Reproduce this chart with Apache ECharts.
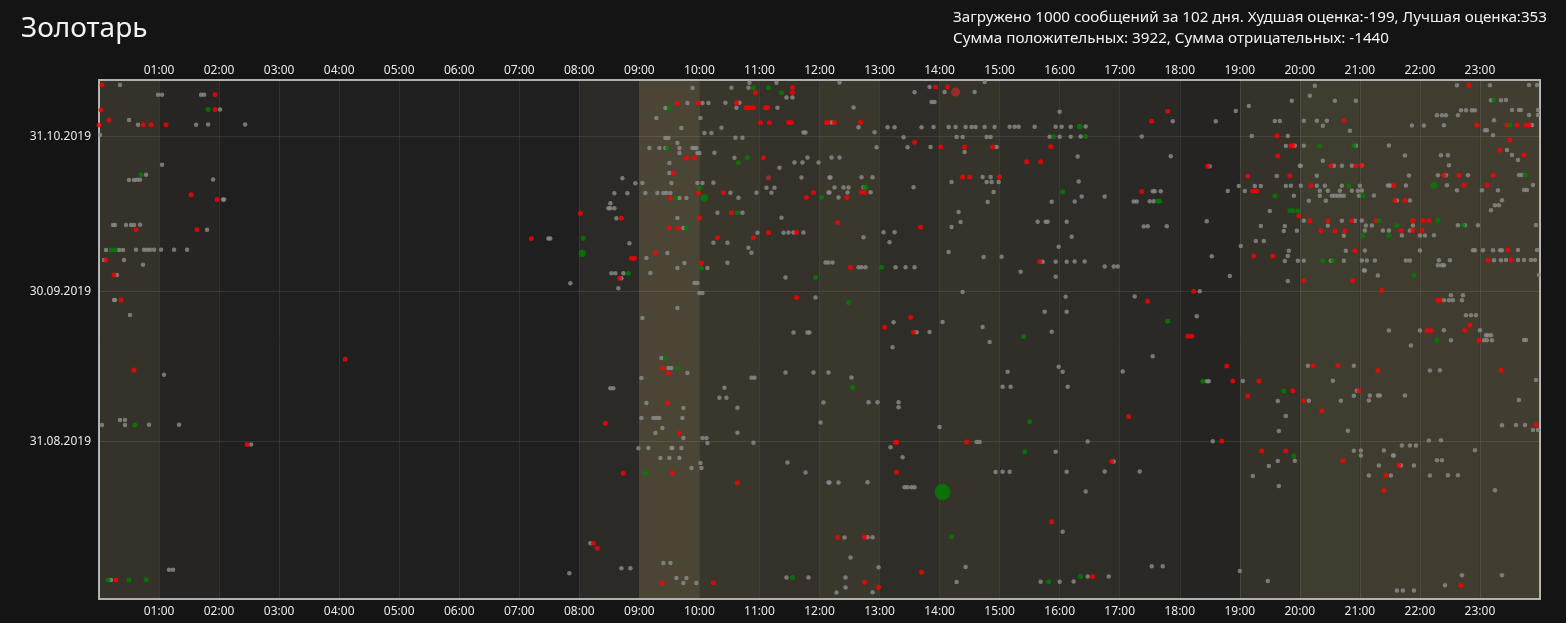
<!DOCTYPE html>
<html>
<head>
<meta charset="utf-8">
<title>Золотарь</title>
<script src="https://cdn.jsdelivr.net/npm/echarts@6/dist/echarts.min.js"></script>
<style>
    html, body { margin: 0; padding: 0; background: #141414; }
    #chart { width: 1566px; height: 623px; }
</style>
</head>
<body>
<div id="chart"></div>
<script>
(function (echarts) {

    var YEAR = 2019;
    var FONT = '"Segoe UI", "Noto Sans", "Open Sans", sans-serif';

    var titleText = 'Золотарь';
    var statsLines = [
        'Загружено 1000 сообщений за 102 дня. Худшая оценка:-199, Лучшая оценка:353',
        'Сумма положительных: 3922, Сумма отрицательных: -1440'
    ];

    // подписи дат по оси Y (полночь по часовому поясу сервера, сдвиг 8 ч)
    var dateTicks = ['08-31', '09-30', '10-31'];
    var TICK_SHIFT_HOURS = -8;
    var dateRange = ['07-30', '11-11'];

    // активность по часам (0..1) - подсветка колонок
    var hourActivity = [0.50, 0.16, 0, 0, 0, 0, 0, 0, 0.30, 1.0, 0.60, 0.47,
        0.62, 0.37, 0.52, 0.40, 0.37, 0.26, 0.13, 0.50, 0.75, 0.76, 0.76, 0.80];

    // нейтральные сообщения (оценка 0): [дата, [время...]]
    var neutral = [
        ['11-10', ['00:21', '10:50', '11:17', '12:20', '14:45']],
        ['11-09', ['09:53', '10:32', '10:49', '13:50', '20:15', '22:37', '23:10', '23:49', '23:57']],
        ['11-08', ['00:59', '01:03', '01:42', '01:45', '13:35', '14:05', '14:35']],
        ['11-07', ['11:27', '11:33', '20:10']],
        ['11-06', ['09:48', '10:03', '10:09', '10:26', '10:40', '13:52', '13:55', '19:52', '20:35', '20:56', '23:11', '23:21', '23:26']],
        ['11-05', ['02:01', '09:26', '10:37', '11:18', '12:34', '19:09']],
        ['11-04', ['16:00', '18:56', '22:41', '22:46', '22:52', '22:55', '23:32', '23:39', '23:41', '23:58']],
        ['11-03', ['00:30', '09:17', '10:01', '22:17', '22:22', '22:26', '22:38', '23:49', '23:58']],
        ['11-02', ['00:39', '01:37', '01:49', '02:26', '12:12', '17:53', '18:36', '19:35', '19:40', '20:04', '20:17', '20:27', '23:14']],
        ['11-01', ['09:42', '10:22', '12:39', '13:08', '13:15', '13:42', '13:54', '14:09', '14:16', '14:26', '14:32', '14:36', '14:45',
            '14:55', '15:10', '15:15', '15:19', '15:35', '15:56', '16:02', '16:11', '16:26', '20:23', '21:52', '22:04', '22:24', '23:52']],
        ['10-31', ['00:01', '10:05', '10:12', '11:44', '11:46', '12:55', '20:50', '23:05', '23:07']],
        ['10-30', ['09:26', '09:29', '10:36', '10:43', '13:24', '14:17', '14:23', '14:47', '14:51', '15:50', '16:00', '16:11', '16:21',
            '17:22', '19:12', '19:48', '23:13']],
        ['10-29', ['09:38']],
        ['10-28', ['09:10', '09:20', '09:26', '09:40', '09:53', '09:55', '09:57', '12:57', '13:28', '13:51', '14:57', '19:46', '19:55',
            '20:04', '20:56', '21:29']],
        ['10-27', ['09:40', '09:58', '10:00', '10:15', '14:25', '23:27']],
        ['10-26', ['10:35', '11:48', '12:12', '12:20', '16:18', '17:51', '21:45', '22:21', '22:28', '23:32']],
        ['10-25', ['01:03', '09:30', '11:35', '11:43', '11:59', '20:23', '23:38']],
        ['10-24', ['11:20', '18:30', '20:00', '20:01', '20:34', '20:42', '20:52', '21:02', '22:29']],
        ['10-23', ['00:47', '09:30']],
        ['10-22', ['00:30', '00:35', '00:38', '00:41', '01:54', '08:43', '11:42', '12:10', '12:11', '12:42', '12:53', '14:43', '14:51',
            '19:37', '20:17', '21:49', '22:18', '22:26', '22:48', '23:39', '23:42']],
        ['10-21', ['08:56', '09:03', '09:32', '09:58', '10:03', '10:14', '14:12', '14:47', '14:52', '14:59', '16:19']],
        ['10-20', ['11:07', '11:15', '12:15', '12:24', '12:29', '12:44', '13:34', '18:59', '19:15', '19:21', '19:46', '19:51', '20:01',
            '20:17', '20:25', '20:42', '21:00', '21:28', '21:30', '21:46', '22:27', '23:53']],
        ['10-19', ['08:35', '08:48', '09:06', '09:18', '09:24', '09:27', '09:31', '10:31', '10:57', '11:12', '12:09', '12:10', '12:28',
            '12:51', '14:54', '17:33', '17:35', '17:41', '18:48', '19:05', '20:20', '20:28', '20:40', '20:52', '20:58', '21:02',
            '22:37', '23:02', '23:18', '23:44', '23:47']],
        ['10-18', ['02:04', '02:05', '09:40', '09:47', '10:39', '12:19', '16:22', '16:45', '19:54', '20:20', '20:32', '20:35', '20:38',
            '20:41', '20:44', '20:59', '21:14']],
        ['10-17', ['08:31', '14:48', '15:52', '16:15', '17:14', '17:17', '17:30', '17:34', '20:09', '20:26', '21:37', '21:50', '23:22']],
        ['10-16', ['08:29', '08:31', '08:35', '23:15', '23:19']],
        ['10-15', ['10:18', '10:43', '14:19', '19:30', '23:11']],
        ['10-14', ['08:37', '09:38', '11:22']],
        ['10-13', ['00:14', '00:16', '00:27', '00:32', '00:35', '00:41', '14:21', '15:38', '15:46', '15:48', '16:07', '18:27', '20:04',
            '20:42', '20:55', '21:02']],
        ['10-12', ['01:48', '09:44', '14:12', '17:24', '17:28', '17:47', '19:21', '19:45', '20:28', '21:06', '21:12', '21:53', '22:38',
            '22:45', '22:58', '23:56']],
        ['10-11', ['10:58', '11:24', '11:29', '11:34', '11:44', '13:04', '13:15', '19:44', '19:57', '21:05', '21:23', '21:29', '21:50']],
        ['10-10', ['07:29', '07:31', '12:44', '16:12', '20:44', '21:42', '22:00', '22:05', '22:14']],
        ['10-09', ['08:50', '10:14', '10:28', '13:10', '19:16', '19:24']],
        ['10-08', ['00:07', '00:20', '00:24', '00:37', '00:45', '00:48', '00:51', '00:55', '01:02', '01:15', '01:28', '10:49', '15:59', '19:01']],
        ['10-07', ['09:28', '10:52', '14:09', '19:49', '20:46', '21:05', '22:00', '22:53', '22:55', '23:03', '23:13', '23:20', '23:22',
            '23:38', '23:57']],
        ['10-06', ['00:05', '00:25', '09:07', '14:44', '15:02', '18:32', '19:48']],
        ['10-05', ['00:44', '09:45', '10:28', '12:06', '12:09', '12:13', '15:43', '15:56', '16:07', '16:15', '16:25', '19:45', '19:58',
            '20:04', '20:31', '20:44', '21:02', '21:07', '21:15', '21:46', '21:50', '22:19', '22:30', '23:14', '23:21', '23:26',
            '23:38', '23:44', '23:51', '23:55']],
        ['10-04', ['09:38', '10:08', '12:39', '12:42', '12:46', '13:16', '13:26', '13:35', '16:45', '16:54', '16:58', '22:18', '22:22', '22:24']],
        ['10-03', ['00:18', '08:32', '08:36', '08:44', '09:11', '15:21', '21:04', '21:05']],
        ['10-02', ['08:42', '11:26', '15:56', '18:50', '21:18', '23:59']],
        ['10-01', ['07:51', '09:55', '09:58', '19:48']],
        ['09-30', ['08:39']],
        ['09-29', ['10:00', '10:03', '14:23', '18:20']],
        ['09-28', ['00:15', '00:16', '11:56', '16:06', '17:15', '22:31', '22:43']],
        ['09-27', ['22:24', '22:29', '22:33', '22:42']],
        ['09-26', ['09:38']],
        ['09-25', ['00:31', '15:45', '16:07']],
        ['09-24', ['09:03', '18:17', '22:46', '22:51', '22:56']],
        ['09-23', ['13:14', '14:03']],
        ['09-22', ['14:43']],
        ['09-21', ['11:34', '11:48', '11:50', '13:37', '13:50', '15:52', '21:29', '22:00', '22:24', '23:00']],
        ['09-20', ['23:06', '23:08', '23:11']],
        ['09-19', ['14:50', '22:31', '23:04', '23:07', '23:12', '23:44', '23:46']],
        ['09-18', ['13:13', '21:51']],
        ['09-16', ['09:22', '17:33']],
        ['09-14', ['09:29', '09:32', '15:59', '20:08', '20:54']],
        ['09-13', ['01:05', '09:48', '11:26', '11:54', '12:09', '15:08', '16:03', '17:03', '22:10', '22:20']],
        ['09-12', ['09:02', '10:52', '10:55', '12:32']],
        ['09-11', ['18:27', '18:29', '19:03', '20:33', '23:56']],
        ['09-10', ['08:31', '08:34', '10:25', '15:03', '15:11', '16:08']],
        ['09-09', ['20:57']],
        ['09-08', ['10:20', '10:27', '20:54', '21:10', '21:18', '21:20', '21:45']],
        ['09-07', ['09:07', '12:04', '12:49', '12:58', '13:19', '19:38', '20:09', '20:41', '21:09', '23:39']],
        ['09-06', ['09:44', '10:38', '13:19']],
        ['09-04', ['00:21', '00:26', '09:02', '09:14', '09:17', '09:20', '09:43', '19:46']],
        ['09-03', ['00:03', '00:26', '00:50', '01:20', '12:01']],
        ['09-02', ['09:23', '14:00', '23:22', '23:36', '23:45']],
        ['09-01', ['09:16', '10:38', '19:39', '20:48', '23:53', '23:58']],
        ['08-31', ['09:44', '10:03', '10:07']],
        ['08-30', ['02:32', '10:08', '10:54', '14:37', '14:40', '16:28', '18:33', '22:09', '22:21']],
        ['08-29', ['08:59', '09:09', '09:32', '09:33', '09:42', '13:11', '21:42', '21:50', '21:56']],
        ['08-28', ['15:56', '20:54', '21:01', '21:24', '22:55']],
        ['08-27', ['09:21', '09:30', '09:40', '13:23', '21:01', '21:33', '21:34']],
        ['08-26', ['10:01', '11:28', '16:54', '19:38', '19:55', '22:17', '22:22']],
        ['08-25', ['09:52', '10:02', '19:29', '21:19', '21:41', '21:54']],
        ['08-24', ['11:46', '14:56', '15:03', '15:10', '16:07', '16:45', '17:20']],
        ['08-23', ['19:13', '21:09', '21:31', '22:10', '22:28', '22:38']],
        ['08-22', ['12:09', '12:10', '12:19', '12:48']],
        ['08-21', ['13:25', '13:28', '13:32', '13:35', '19:39']],
        ['08-20', ['16:26', '23:15']],
        ['08-12', ['16:03']],
        ['08-11', ['12:25', '12:48', '12:53']],
        ['08-10', ['08:11']],
        ['08-07', ['12:31']],
        ['08-06', ['09:24', '09:31']],
        ['08-05', ['01:10', '01:14', '08:42', '08:51', '12:59', '14:26', '17:32', '17:43']],
        ['08-04', ['07:50', '19:00']],
        ['08-03', ['00:12', '09:37', '09:47', '11:27', '11:49', '12:26', '16:28', '16:49', '22:42', '23:22']],
        ['08-02', ['09:44', '09:57', '14:17', '15:41', '16:00', '16:14', '19:28']],
        ['08-01', ['12:26', '22:25']],
        ['07-31', ['12:17', '12:53', '21:37', '21:43', '21:54']]
    ];

    // отрицательные оценки (мелкие, около -12): [дата, [время...]]
    var SMALL_NEG = -12;
    var negative = [
        ['11-10', ['00:03']],
        ['11-09', ['11:33', '13:56', '14:08', '22:49']],
        ['11-08', ['01:56', '10:56', '11:33']],
        ['11-06', ['09:38', '09:59', '10:37']],
        ['11-05', ['00:02', '01:56', '10:47', '10:50', '10:54', '11:06', '11:08']],
        ['11-04', ['17:48']],
        ['11-03', ['00:10']],
        ['11-02', ['00:00', '00:44', '00:52', '01:07', '11:01', '11:10', '11:29', '11:32', '12:07', '12:08', '12:15', '12:41', '17:32', '20:44']],
        ['11-01', ['22:57', '23:27', '23:37', '23:46', '23:49']],
        ['10-30', ['19:37']],
        ['10-29', ['13:35', '23:30']],
        ['10-28', ['14:01', '14:25', '14:53', '15:51', '19:51', '19:53']],
        ['10-27', ['23:20']],
        ['10-26', ['09:47', '09:55', '11:04', '19:38', '23:44']],
        ['10-25', ['15:27', '15:41']],
        ['10-24', ['18:28', '20:31', '20:56', '21:02']],
        ['10-23', ['09:34']],
        ['10-22', ['14:23', '14:30', '15:00', '19:08', '19:50', '22:24', '22:39', '23:13']],
        ['10-20', ['20:11', '21:34', '22:44', '23:07']],
        ['10-19', ['01:32', '09:59', '10:24', '11:54', '12:42', '12:45', '17:22', '19:13', '19:17']],
        ['10-18', ['01:58', '09:31', '11:47', '12:27']],
        ['10-17', ['21:35', '21:45']],
        ['10-15', ['08:01', '10:32']],
        ['10-14', ['08:42', '10:00', '19:59']],
        ['10-13', ['12:18', '20:10', '20:28', '20:52', '21:16', '21:53', '22:03', '22:09']],
        ['10-12', ['00:37', '01:38', '09:30', '09:39', '13:41']],
        ['10-11', ['11:09', '11:37', '20:21', '20:35', '20:45', '21:41', '21:53', '22:02']],
        ['10-10', ['07:12', '10:18', '10:54']],
        ['10-07', ['09:16', '20:55', '23:28']],
        ['10-06', ['00:07', '08:52', '08:55', '19:14', '19:33']],
        ['10-05', ['10:02', '15:40', '23:08', '23:31']],
        ['10-04', ['12:31']],
        ['10-03', ['00:15']],
        ['10-02', ['08:40']],
        ['10-01', ['20:04', '20:53']],
        ['09-29', ['18:14', '21:22']],
        ['09-28', ['00:22', '11:37']],
        ['09-27', ['17:28', '22:18', '22:20']],
        ['09-24', ['13:31']],
        ['09-22', ['13:05', '22:50']],
        ['09-21', ['13:34', '22:07', '22:11', '22:45']],
        ['09-20', ['18:08', '18:12']],
        ['09-19', ['22:59']],
        ['09-16', ['04:06']],
        ['09-14', ['00:35', '09:23', '18:47', '20:13', '20:38']],
        ['09-13', ['09:29', '21:18', '23:21']],
        ['09-11', ['18:53', '19:19']],
        ['09-09', ['19:53', '20:59']],
        ['09-08', ['19:08']],
        ['09-07', ['09:28', '20:04']],
        ['09-05', ['20:22']],
        ['09-04', ['17:09']],
        ['09-03', ['08:26']],
        ['09-02', ['23:56']],
        ['09-01', ['09:40']],
        ['08-30', ['02:28', '13:16', '13:17', '14:27', '18:42']],
        ['08-28', ['19:22', '19:46']],
        ['08-26', ['16:52', '20:43']],
        ['08-25', ['21:39']],
        ['08-24', ['08:44', '09:33', '13:17']],
        ['08-23', ['21:26']],
        ['08-22', ['10:38']],
        ['08-20', ['21:24']],
        ['08-14', ['15:52']],
        ['08-11', ['12:18', '12:45']],
        ['08-10', ['08:14']],
        ['08-09', ['08:18']],
        ['08-04', ['13:42']],
        ['08-03', ['00:17', '16:33']],
        ['08-02', ['09:23', '10:14', '12:45']],
        ['08-01', ['12:59', '22:41']]
    ];

    // положительные оценки (мелкие, около +40): [дата, [время...]]
    var SMALL_POS = 40;
    var positive = [
        ['11-09', ['10:54', '11:09']],
        ['11-08', ['11:22']],
        ['11-06', ['23:14']],
        ['11-05', ['01:49', '09:30']],
        ['11-01', ['23:30']],
        ['10-30', ['15:54', '16:26']],
        ['10-28', ['09:28', '20:20', '20:54']],
        ['10-26', ['10:48']],
        ['10-25', ['10:39']],
        ['10-23', ['00:42']],
        ['10-22', ['23:45']],
        ['10-20', ['10:00', '20:49']],
        ['10-19', ['16:03']],
        ['10-18', ['09:36', '12:02', '19:35', '21:03']],
        ['10-17', ['17:38', '17:40']],
        ['10-15', ['10:38', '19:50', '19:53', '19:58']],
        ['10-13', ['21:19', '22:18']],
        ['10-12', ['09:47', '21:37', '22:43']],
        ['10-10', ['08:04', '21:03', '21:29']],
        ['10-08', ['00:12', '00:16']],
        ['10-05', ['20:23', '20:33']],
        ['10-04', ['10:02', '13:02']],
        ['10-03', ['08:49']],
        ['10-02', ['11:56', '21:54']],
        ['09-27', ['12:29']],
        ['09-23', ['17:48']],
        ['09-20', ['15:24']],
        ['09-19', ['22:17']],
        ['09-16', ['09:26']],
        ['09-14', ['09:38']],
        ['09-11', ['18:23']],
        ['09-10', ['12:33']],
        ['09-09', ['19:44']],
        ['09-03', ['00:36', '15:30']],
        ['08-28', ['15:25']],
        ['08-27', ['19:54']],
        ['08-24', ['09:06']],
        ['08-11', ['14:12']],
        ['08-03', ['00:09', '00:30', '00:47', '11:33', '16:21']],
        ['08-02', ['15:49']]
    ];

    // крупные оценки: [дата, время, оценка]
    var strong = [
        ['08-20', '14:03', 353],
        ['10-18', '10:05', 160],
        ['10-07', '08:03', 160],
        ['10-20', '22:14', 150],
        ['11-01', '16:20', 130],
        ['10-20', '12:46', 130],
        ['11-08', '14:16', -199],
        ['10-22', '11:09', -110]
    ];

    var MAX_SCORE = 353;

    function dayNum(md) {
        var p = md.split('-');
        return Date.UTC(YEAR, +p[0] - 1, +p[1]) / 864e5;
    }

    function toPoint(md, hm, score) {
        var t = hm.split(':');
        var mins = (+t[0]) * 60 + (+t[1]);
        return [mins / 60, dayNum(md) + mins / 1440, score];
    }

    function expand(rows, score) {
        var out = [];
        rows.forEach(function (row) {
            row[1].forEach(function (hm) {
                out.push(toPoint(row[0], hm, score));
            });
        });
        return out;
    }

    var grayData = expand(neutral, 0);
    var redData = expand(negative, SMALL_NEG);
    var greenData = expand(positive, SMALL_POS);
    strong.forEach(function (s) {
        (s[2] < 0 ? redData : greenData).push(toPoint(s[0], s[1], s[2]));
    });

    function markSize(v) {
        return Math.max(5, 16 * Math.abs(v[2]) / MAX_SCORE);
    }

    function shade(level) {
        var lo = [31, 31, 31], hi = [74, 69, 53];
        var c = lo.map(function (l, i) { return Math.round(l + (hi[i] - l) * level); });
        return 'rgb(' + c.join(',') + ')';
    }

    var columns = hourActivity.map(function (a, h) {
        return [{ xAxis: h, itemStyle: { color: shade(a) } }, { xAxis: h + 1 }];
    });

    function pad(n) { return (n < 10 ? '0' : '') + n; }
    function fmtHour(v) { return pad(v) + ':00'; }
    function fmtDate(v) {
        var d = new Date(Math.round(v) * 864e5);
        return pad(d.getUTCDate()) + '.' + pad(d.getUTCMonth() + 1) + '.' + d.getUTCFullYear();
    }

    var tickVals = dateTicks.map(function (d) { return dayNum(d) + TICK_SHIFT_HOURS / 24; });
    var gridLine = { show: true, lineStyle: { color: 'rgba(255,255,255,0.09)', width: 1 } };
    var labelStyle = { color: '#e8e8e8', fontSize: 12, fontFamily: FONT };

    function hourAxis(pos, split, margin) {
        return {
            type: 'value', position: pos, min: 0, max: 24, interval: 1,
            axisLine: { show: false }, axisTick: { show: false },
            axisLabel: Object.assign({ formatter: fmtHour, showMinLabel: false, showMaxLabel: false, margin: margin }, labelStyle),
            splitLine: split ? gridLine : { show: false }
        };
    }

    var chart = echarts.init(document.getElementById('chart'));
    chart.setOption({
        backgroundColor: '#141414',
        animation: false,
        title: [{
            text: titleText, left: 16, top: 10,
            textStyle: { color: '#f2f2f2', fontSize: 28, fontWeight: 'normal', fontFamily: FONT }
        }, {
            text: statsLines.join('\n'), left: 948, top: 2,
            textStyle: { color: '#f2f2f2', fontSize: 15.2, fontWeight: 'normal', lineHeight: 21, fontFamily: FONT }
        }],
        grid: {
            left: 99, right: 26, top: 80, bottom: 24,
            show: true, borderColor: '#b0b0b0', borderWidth: 2, backgroundColor: 'transparent'
        },
        xAxis: [hourAxis('top', true, 3), hourAxis('bottom', false, 7)],
        yAxis: {
            type: 'value', min: dayNum(dateRange[0]) + 0.2, max: dayNum(dateRange[1]),
            axisLine: { show: false },
            axisTick: { show: false, customValues: tickVals },
            axisLabel: Object.assign({ customValues: tickVals, formatter: fmtDate, margin: 8 }, labelStyle),
            splitLine: gridLine
        },
        series: [{
            type: 'scatter', z: -1, silent: true, data: [],
            markArea: { silent: true, z: -1, data: columns }
        }, {
            name: 'neutral', type: 'scatter', data: grayData, symbolSize: 4.5,
            itemStyle: { color: '#8c8c8c' }
        }, {
            name: 'negative', type: 'scatter', data: redData, symbolSize: markSize,
            itemStyle: {
                color: function (p) { return p.value[2] <= -100 ? '#b02c2c' : '#ff0000'; }
            }
        }, {
            name: 'positive', type: 'scatter', data: greenData, symbolSize: markSize,
            itemStyle: { color: '#008000' }
        }]
    });

})(window.echarts);
</script>
</body>
</html>
